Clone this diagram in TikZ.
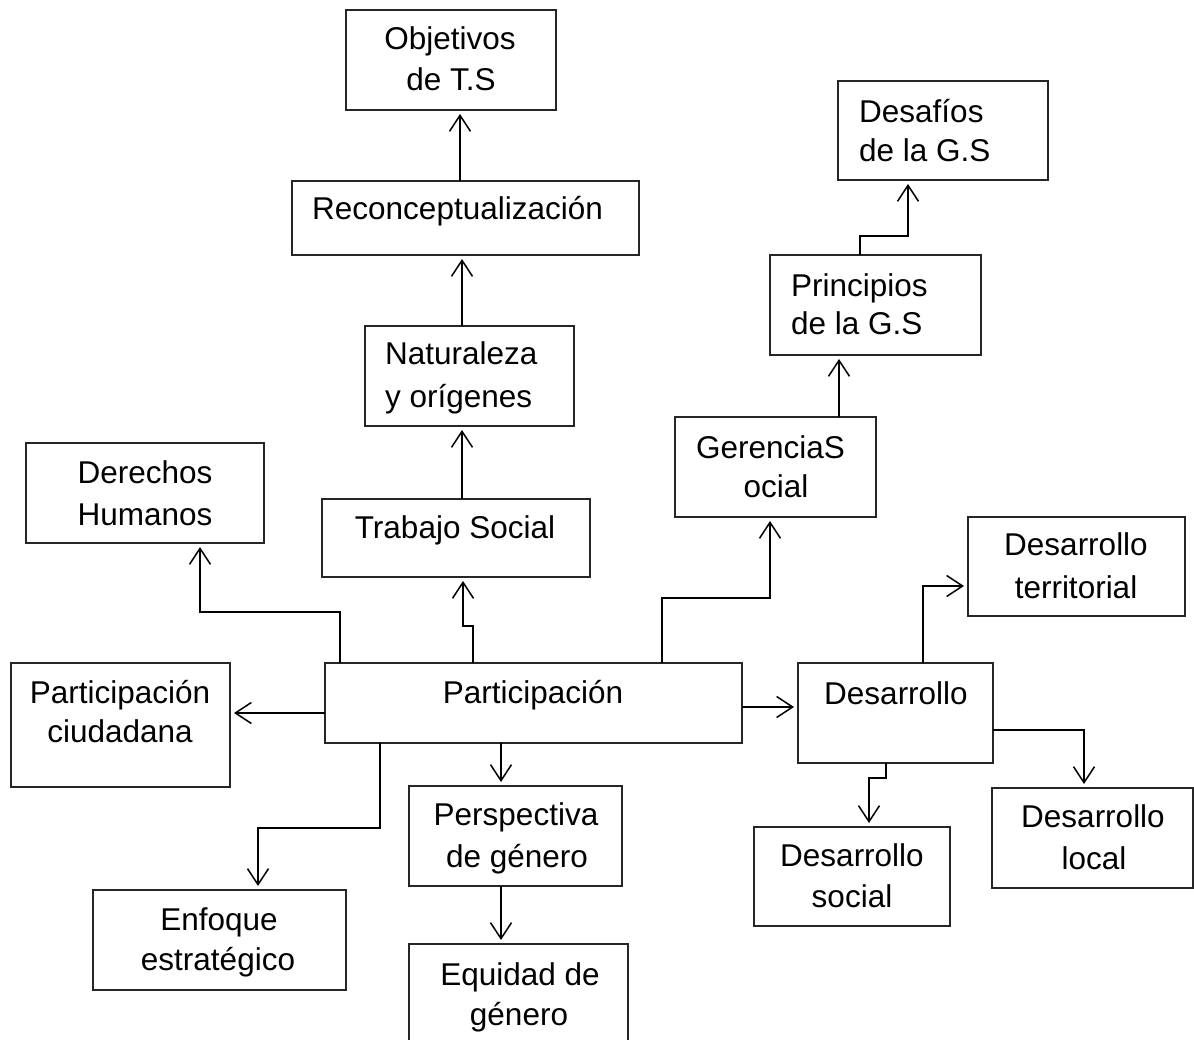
\documentclass[tikz,border=0pt]{standalone}
\usepackage{fontspec}
\setmainfont{Liberation Sans}
\usetikzlibrary{arrows.meta}
\tikzset{
  box/.style={draw=black!85, line width=1.2pt, rectangle, inner sep=0pt, outer sep=0pt},
  txt/.style={anchor=base, inner sep=0pt, font=\fontsize{31.5}{41}\selectfont},
  txtl/.style={txt, anchor=base west},
  arr/.style={line width=1.5pt, -{Straight Barb[length=16pt,width=21pt]}, shorten >=4pt},
  ln/.style={line width=1.5pt}
}
\newcommand\mkbox[5]{\node[box, minimum width=#4pt, minimum height=#5pt] (#1) at (#2,#3) {};}
\begin{document}
\begin{tikzpicture}[x=1pt,y=-1pt]
\useasboundingbox (0,0) rectangle (1194,1040);
\clip (0,0) rectangle (1194,1040);
% boxes
\mkbox{obj}{451}{60}{210}{100}
\mkbox{rec}{465.5}{218}{347}{74}
\mkbox{nat}{469.5}{376}{209}{100}
\mkbox{ts}{456}{538}{268}{78}
\mkbox{der}{145}{493}{238}{100}
\mkbox{par}{533.5}{703}{417}{80}
\mkbox{pc}{120.5}{725}{219}{124}
\mkbox{ger}{775.5}{467}{201}{100}
\mkbox{pri}{875.5}{305}{211}{100}
\mkbox{des}{943}{130.5}{210}{99}
\mkbox{dt}{1076.5}{566.5}{217}{99}
\mkbox{dev}{895.5}{713}{195}{100}
\mkbox{dl}{1092.5}{838}{201}{100}
\mkbox{dso}{852}{876.5}{196}{99}
\mkbox{enf}{219.5}{940}{253}{100}
\mkbox{per}{515.5}{836}{213}{100}
\mkbox{eq}{518.5}{996}{219}{104}
% texts
\node[txt] (obj1) at (450,50) {Objetivos};
\node[txt] (obj2) at (451,91) {de T.S};
\node[txtl] (rec1) at (312,220) {Reconceptualización};
\node[txtl] (nat1) at (385,365) {Naturaleza};
\node[txtl] (nat2) at (385,407) {y orígenes};
\node[txt] (ts1) at (455,538) {Trabajo Social};
\node[txt] (der1) at (145,483) {Derechos};
\node[txt] (der2) at (145,525) {Humanos};
\node[txt] (pc1) at (120,703) {Participación};
\node[txt] (pc2) at (120,742) {ciudadana};
\node[txt] (par1) at (533,703) {Participación};
\node[txt] (ger1) at (770.5,458) {GerenciaS};
\node[txt] (ger2) at (776,497) {ocial};
\node[txtl] (pri1) at (791,297) {Principios};
\node[txtl] (pri2) at (791,335) {de la G.S};
\node[txtl] (des1) at (859,123) {Desafíos};
\node[txtl] (des2) at (859,162) {de la G.S};
\node[txt] (dt1) at (1076,555) {Desarrollo};
\node[txt] (dt2) at (1076,598) {territorial};
\node[txt] (dev1) at (896,704) {Desarrollo};
\node[txt] (dso1) at (852,866) {Desarrollo};
\node[txt] (dso2) at (852,907) {social};
\node[txt] (dl1) at (1093,827) {Desarrollo};
\node[txt] (dl2) at (1094,869) {local};
\node[txt] (enf1) at (219,930) {Enfoque};
\node[txt] (enf2) at (218,970) {estratégico};
\node[txt] (per1) at (516,825) {Perspectiva};
\node[txt] (per2) at (517,867) {de género};
\node[txt] (eq1) at (520,985) {Equidad de};
\node[txt] (eq2) at (519,1025) {género};
% connectors
\draw[arr] (460,0 |- rec.north) -- (460,0 |- obj.south);
\draw[arr] (462,0 |- nat.north) -- (462,0 |- rec.south);
\draw[arr] (462,0 |- ts.north) -- (462,0 |- nat.south);
\draw[arr] (473,0 |- par.north) -- (473,626) -- (463,626) -- (463,0 |- ts.south);
\draw[arr] (340,0 |- par.north) -- (340,612) -- (200,612) -- (200,0 |- der.south);
\draw[arr] (par.west |- 0,713) -- (pc.east |- 0,713);
\draw[arr] (380,0 |- par.south) -- (380,828) -- (258,828) -- (258,0 |- enf.north);
\draw[arr] (501,0 |- par.south) -- (501,0 |- per.north);
\draw[arr] (501,0 |- per.south) -- (501,0 |- eq.north);
\draw[arr] (662,0 |- par.north) -- (662,598) -- (770,598) -- (770,0 |- ger.south);
\draw[arr] (839,0 |- ger.north) -- (839,0 |- pri.south);
\draw[arr] (860,0 |- pri.north) -- (860,236) -- (908,236) -- (908,0 |- des.south);
\draw[arr] (par.east |- 0,707) -- (dev.west |- 0,707);
\draw[arr] (923,0 |- dev.north) -- (923,586) -- (dt.west |- 0,586);
\draw[arr] (dev.east |- 0,730) -- (1084,730) -- (1084,0 |- dl.north);
\draw[arr] (886,0 |- dev.south) -- (886,778) -- (869,778) -- (869,0 |- dso.north);
\end{tikzpicture}
\end{document}
